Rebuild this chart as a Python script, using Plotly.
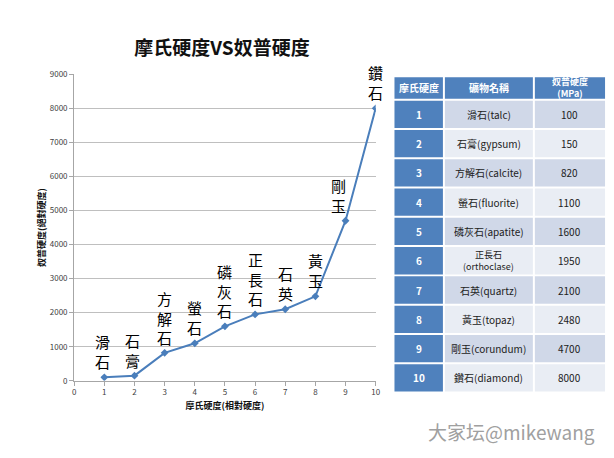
import plotly.graph_objects as go

W, H = 614, 458

mohs = [1, 2, 3, 4, 5, 6, 7, 8, 9, 10]
knoop = [100, 150, 820, 1100, 1600, 1950, 2100, 2480, 4700, 8000]
labels = ["滑石", "石膏", "方解石", "螢石", "磷灰石", "正長石", "石英", "黃玉", "剛玉", "鑽石"]
label_xshift = [-2, -2, 0, 0, 0, 0, 0, 0, -7, 0]
minerals = ["滑石(talc)", "石膏(gypsum)", "方解石(calcite)", "螢石(fluorite)", "磷灰石(apatite)",
            "正長石<br>(orthoclase)", "石英(quartz)", "黃玉(topaz)", "剛玉(corundum)", "鑽石(diamond)"]
headers = ["摩氏硬度", "礦物名稱", "奴普硬度<br>(MPa)"]
x_ticks = list(range(0, 11))
y_ticks = list(range(0, 9001, 1000))

FONT = "Noto Sans CJK TC"
BLUE = "#4F81BD"
BAND1 = "#D0D8E8"
BAND2 = "#E9EDF4"

def px(x):
    return x / W

def py(y):
    return 1 - y / H

fig = go.Figure()

fig.add_trace(go.Scatter(
    x=mohs, y=knoop, mode="lines+markers",
    line=dict(color="#4A7EBB", width=2),
    marker=dict(symbol="diamond", size=6, color="#4A7EBB"),
    showlegend=False, hoverinfo="x+y",
))

for xv, yv, lab, xs in zip(mohs, knoop, labels, label_xshift):
    fig.add_annotation(
        x=xv, y=yv, xref="x", yref="y",
        text="<br>".join(list(lab)),
        showarrow=False, yanchor="bottom", xanchor="center",
        yshift=3, xshift=xs,
        font=dict(family=FONT, size=15, color="#000000"),
    )

# ---- table drawn with shapes + annotations ----
col_edges = [396, 447, 538, 611]
table_top = 72
header_h = 24
row_h = 30

def add_cell(c, top, bottom, fill, text, color, size, bold=False):
    x0, x1 = col_edges[c], col_edges[c + 1]
    fig.add_shape(type="rect", xref="paper", yref="paper",
                  x0=px(x0 + 1), x1=px(x1 - 1), y0=py(bottom - 1), y1=py(top + 1),
                  fillcolor=fill, line=dict(width=0), layer="below")
    fig.add_annotation(x=px((x0 + x1) / 2), y=py((top + bottom) / 2),
                       xref="paper", yref="paper", showarrow=False,
                       xanchor="center", yanchor="middle",
                       text=("<b>%s</b>" % text) if bold else text,
                       font=dict(family=FONT, size=size, color=color))

for c, h in enumerate(headers):
    add_cell(c, table_top, table_top + header_h, BLUE, h, "white", 9 if c == 2 else 10, bold=True)

for i in range(len(mohs)):
    top = table_top + header_h + i * row_h
    bottom = top + row_h
    band = BAND1 if i % 2 == 0 else BAND2
    two_line = "<br>" in minerals[i]
    add_cell(0, top, bottom, BLUE, str(mohs[i]), "white", 10, bold=True)
    add_cell(1, top, bottom, band, minerals[i], "#222222", 9 if two_line else 10)
    add_cell(2, top, bottom, band, str(knoop[i]), "#222222", 10)

fig.update_layout(
    width=W, height=H,
    margin=dict(l=0, r=0, t=0, b=0),
    paper_bgcolor="white", plot_bgcolor="white",
    title=dict(
        text="<b>摩氏硬度VS奴普硬度</b>",
        x=px(222), y=py(48), xanchor="center", yanchor="middle",
        font=dict(family=FONT, size=19, color="#111111"),
    ),
    xaxis=dict(
        domain=[px(73), px(378)], range=[0, 10],
        tickvals=x_ticks, ticktext=[str(v) for v in x_ticks],
        showgrid=False, zeroline=False,
        showline=True, linecolor="#A6A6A6", linewidth=1,
        ticks="outside", ticklen=4, tickcolor="#A6A6A6",
        tickfont=dict(family=FONT, size=8, color="#404040"),
        title=dict(text="<b>摩氏硬度(相對硬度)</b>", standoff=6,
                   font=dict(family=FONT, size=9, color="#111111")),
    ),
    yaxis=dict(
        domain=[py(384), py(70)], range=[0, 9000],
        tickvals=y_ticks, ticktext=[str(v) for v in y_ticks],
        showgrid=True, gridcolor="#BFBFBF", gridwidth=1, zeroline=False,
        showline=True, linecolor="#A6A6A6", linewidth=1,
        ticks="outside", ticklen=4, tickcolor="#A6A6A6",
        tickfont=dict(family=FONT, size=8, color="#404040"),
        title=dict(text="<b>奴普硬度(絕對硬度)</b>", standoff=2,
                   font=dict(family=FONT, size=9, color="#111111")),
    ),
)

fig.add_annotation(
    x=px(602), y=py(436), xref="paper", yref="paper",
    xanchor="right", yanchor="middle", showarrow=False,
    text="大家坛@mikewang",
    font=dict(family=FONT, size=19, color="#A0A0A0"),
)

fig.write_html("out.html")
